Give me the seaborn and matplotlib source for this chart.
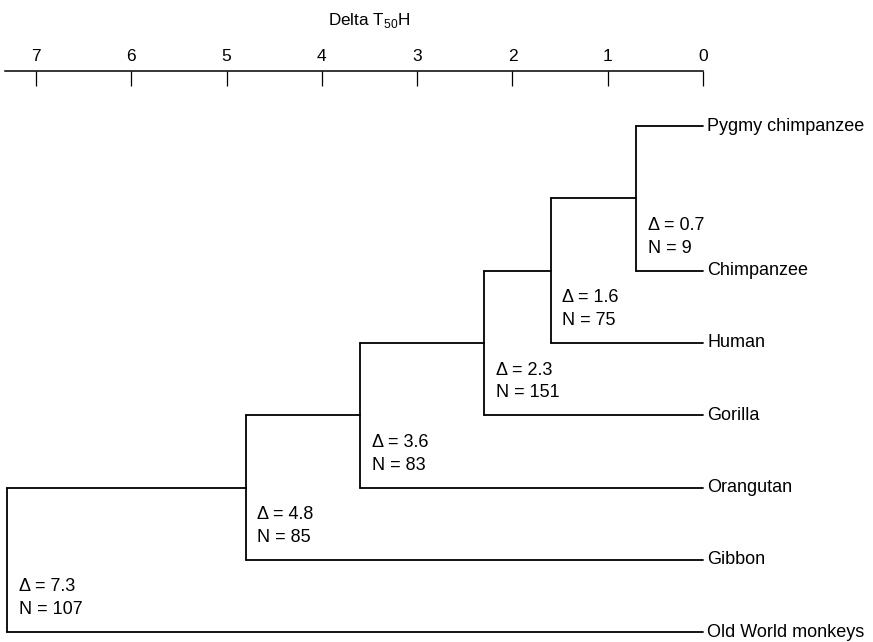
"""
Dendrogram of hominoid DNA hybridisation distances (Delta T50H),
drawn as a ladder tree with seaborn line segments.
"""
import numpy as np
import pandas as pd
import matplotlib
matplotlib.use("Agg")
import matplotlib.pyplot as plt
import seaborn as sns

# leaves, top to bottom, and the row each one sits on
leaves = ["Pygmy chimpanzee", "Chimpanzee", "Human", "Gorilla",
          "Orangutan", "Gibbon", "Old World monkeys"]
leaf_rows = [0, 2, 3, 4, 5, 6, 7]

# internal nodes: node k joins the cluster above with leaf k+1
node_delta = [0.7, 1.6, 2.3, 3.6, 4.8, 7.3]
node_n = [9, 75, 151, 83, 85, 107]

ticks = [7, 6, 5, 4, 3, 2, 1, 0]
axis_title = r"Delta T$_{50}$H"


def build_segments():
    rows = []
    seg = 0
    top_x, top_y = 0.0, leaf_rows[0]
    for k, d in enumerate(node_delta):
        low_y = leaf_rows[k + 1]
        for xs, ys in [((top_x, d), (top_y, top_y)),
                       ((d, d), (top_y, low_y)),
                       ((d, 0.0), (low_y, low_y))]:
            for x, y in zip(xs, ys):
                rows.append({"seg": seg, "x": x, "y": y})
            seg += 1
        top_x, top_y = d, (top_y + low_y) / 2
    return pd.DataFrame(rows)


def main():
    sns.set_theme(style="white")
    plt.rcParams["font.family"] = ["Liberation Sans", "DejaVu Sans"]
    plt.rcParams["mathtext.fontset"] = "custom"
    plt.rcParams["mathtext.rm"] = "Liberation Sans"
    plt.rcParams["text.color"] = "black"

    fig = plt.figure(figsize=(8.73, 6.42), dpi=100)
    ax = fig.add_axes([0, 0, 1, 1])

    df = build_segments()
    sns.lineplot(data=df, x="x", y="y", units="seg", estimator=None,
                 sort=False, color="black", linewidth=1.3, ax=ax, legend=False)

    # same scale as the reference: 95.3 px per unit, 72.3 px per row
    ax.set_xlim(7.378, -1.784)
    ax.set_ylim(7.137, -1.743)

    # scale bar on top
    for side in ["left", "right", "bottom"]:
        ax.spines[side].set_visible(False)
    ax.spines["top"].set_position(("data", -0.755))
    ax.spines["top"].set_bounds(7.33, 0)
    ax.spines["top"].set_linewidth(1.1)
    ax.spines["top"].set_color("black")
    ax.xaxis.tick_top()
    ax.set_xticks(ticks)
    ax.set_xticklabels([str(t) for t in ticks])
    ax.tick_params(axis="x", direction="in", length=10.5, width=0.9,
                   pad=5, labelsize=12.5, colors="black")
    ax.set_yticks([])
    ax.set_xlabel("")
    ax.set_ylabel("")
    ax.text(3.5, -1.465, axis_title, ha="center", va="center", fontsize=12.3,
            color="black")

    # leaf names
    for name, r in zip(leaves, leaf_rows):
        ax.annotate(name, xy=(0, r), xytext=(3, 0), textcoords="offset points",
                    ha="left", va="center", fontsize=13, color="black")

    # node annotations, sitting just above the lower branch
    for k, (d, n) in enumerate(zip(node_delta, node_n)):
        r = leaf_rows[k + 1]
        ax.annotate(f"\u0394 = {d}", xy=(d, r), xytext=(8.5, 32.5),
                    textcoords="offset points", ha="left", va="center",
                    fontsize=13, color="black")
        ax.annotate(f"N = {n}", xy=(d, r), xytext=(8.5, 16),
                    textcoords="offset points", ha="left", va="center",
                    fontsize=13, color="black")

    fig.savefig("out.png", dpi=100)
    plt.close(fig)


if __name__ == "__main__":
    main()
